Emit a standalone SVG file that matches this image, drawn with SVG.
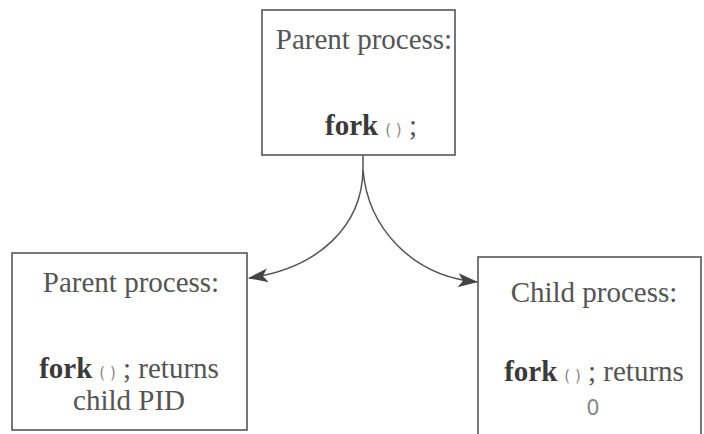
<svg xmlns="http://www.w3.org/2000/svg" width="704" height="434" viewBox="0 0 704 434">
  <style>
    .box { fill: #ffffff; stroke: #555555; stroke-width: 1.6; }
    .lbl { font-family: "Liberation Serif", "DejaVu Serif", serif; font-size: 29px; fill: #555555; text-anchor: middle; }
    .b { font-weight: bold; fill: #3a3a3a; }
    .par { font-family: "DejaVu Sans", "Liberation Sans", sans-serif; font-size: 15px; fill: #888888; }
    .zero { font-family: "DejaVu Sans", "Liberation Sans", sans-serif; font-size: 21px; fill: #888888; text-anchor: middle; }
    .conn { fill: none; stroke: #555555; stroke-width: 1.5; }
  </style>
  <defs>
    <marker id="arrow" viewBox="0 0 20 14" refX="19" refY="7" markerWidth="20" markerHeight="14" markerUnits="userSpaceOnUse" orient="auto">
      <path d="M0,0 L20,7 L0,14 L5,7 Z" fill="#444444"/>
    </marker>
  </defs>
  <rect width="704" height="434" fill="#ffffff"/>

  <g id="parent-top">
    <rect class="box" x="262" y="10" width="193" height="145"/>
    <text class="lbl" x="364" y="49">Parent process:</text>
    <text class="lbl" x="371" y="135"><tspan class="b">fork</tspan><tspan class="par" dx="7">( )</tspan> ;</text>
  </g>

  <g id="parent-after">
    <rect class="box" x="12" y="253" width="235" height="177"/>
    <text class="lbl" x="131" y="292">Parent process:</text>
    <text class="lbl" x="129" y="378"><tspan class="b">fork</tspan><tspan class="par" dx="7">( )</tspan> ; returns</text>
    <text class="lbl" x="129" y="410">child PID</text>
  </g>

  <g id="child-after">
    <rect class="box" x="478" y="257" width="223" height="190"/>
    <text class="lbl" x="594" y="302">Child process:</text>
    <text class="lbl" x="594" y="381"><tspan class="b">fork</tspan><tspan class="par" dx="7">( )</tspan> ; returns</text>
    <text class="zero" x="593" y="415">0</text>
  </g>

  <g id="connectors">
    <path class="conn" d="M363,155 L363,170 C362,225 320,268 249,278" marker-end="url(#arrow)"/>
    <path class="conn" d="M363,170 C368,228 412,276 477,282" marker-end="url(#arrow)"/>
  </g>
</svg>
